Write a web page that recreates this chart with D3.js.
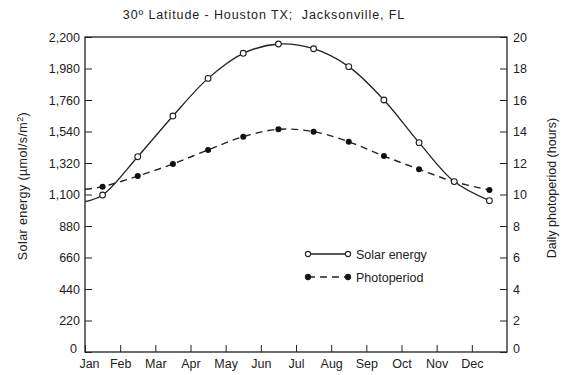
<!DOCTYPE html>
<html>
<head>
<meta charset="utf-8">
<script src="https://cdn.jsdelivr.net/npm/d3@7"></script>
<style>
  body { margin: 0; background: #fff; }
  svg { display: block; font-family: "Liberation Sans", Arial, sans-serif; }
  .axis text { font-size: 12.5px; fill: #222; }
  .axis line, .axis path { stroke: #222; }
</style>
</head>
<body>
<div id="chart"></div>
<script>
// month labels, values read at mid-month
const months = ['Jan', 'Feb', 'Mar', 'Apr', 'May', 'Jun', 'Jul', 'Aug', 'Sep', 'Oct', 'Nov', 'Dec'];
const solarEnergy = [1096, 1364, 1648, 1911, 2086, 2151, 2118, 1993, 1760, 1462, 1190, 1057];
const photoperiod = [10.5, 11.17, 11.94, 12.83, 13.67, 14.14, 13.99, 13.35, 12.44, 11.6, 10.81, 10.29];
// curve value where it meets the left axis (Jan 1)
const solarJan1 = 1050;
const photoJan1 = 10.33;
const solarTicks = d3.range(0, 2201, 220);
const hourTicks = d3.range(0, 21, 2);

const W = 563, H = 375;
const margin = {top: 37, right: 56, bottom: 23, left: 85};
const width = W - margin.left - margin.right;
const height = H - margin.top - margin.bottom;

const svg = d3.select('#chart').append('svg')
    .attr('width', W)
    .attr('height', H);

svg.append('text')
    .attr('x', 264)
    .attr('y', 19)
    .attr('text-anchor', 'middle')
    .style('font-size', '12.5px')
    .style('letter-spacing', '0.9px')
    .style('white-space', 'pre')
    .style('fill', '#222')
    .text('30º Latitude - Houston TX;  Jacksonville, FL');

const g = svg.append('g')
    .attr('transform', `translate(${margin.left}, ${margin.top})`);

let xScale = d3.scaleLinear().domain([0, 12]).range([0, width]);
let yLeft = d3.scaleLinear().domain([0, 2200]).range([height, 0]);
let yRight = d3.scaleLinear().domain([0, 20]).range([height, 0]);

// frame
g.append('rect')
    .attr('width', width)
    .attr('height', height)
    .attr('fill', 'none')
    .attr('stroke', '#222')
    .attr('stroke-width', 1.3);

g.append('g')
    .attr('class', 'axis')
    .call(d3.axisLeft(yLeft).tickValues(solarTicks).tickFormat(d3.format(','))
        .tickSizeInner(-7).tickSizeOuter(0).tickPadding(5))
    .call(a => a.select('.domain').remove())
    .call(a => a.selectAll('text').filter(d => d === 0).attr('dy', '0.05em').attr('x', -8));

g.append('g')
    .attr('class', 'axis')
    .attr('transform', `translate(${width}, 0)`)
    .call(d3.axisRight(yRight).tickValues(hourTicks)
        .tickSizeInner(-7).tickSizeOuter(0).tickPadding(6))
    .call(a => a.select('.domain').remove())
    .call(a => a.selectAll('text').filter(d => d === 0).attr('dy', '0.05em'));

g.append('g')
    .attr('class', 'axis')
    .attr('transform', `translate(0, ${height})`)
    .call(d3.axisBottom(xScale).tickValues(d3.range(0, 12)).tickFormat(i => months[i])
        .tickSizeInner(-7).tickSizeOuter(0).tickPadding(4))
    .call(a => a.select('.domain').remove())
    .call(a => a.selectAll('text').attr('dy', '0.95em'))
    .call(a => a.selectAll('text').filter(d => d === 0).attr('x', 4));

// axis titles
svg.append('text')
    .attr('transform', 'translate(27, 186) rotate(-90)')
    .attr('text-anchor', 'middle')
    .style('font-size', '12.5px')
    .style('letter-spacing', '0.4px')
    .style('fill', '#222')
    .html('Solar energy (µmol/s/m<tspan dy="-4" font-size="9">2</tspan><tspan dy="4">)</tspan>');

svg.append('text')
    .attr('transform', 'translate(556, 188) rotate(-90)')
    .attr('text-anchor', 'middle')
    .style('font-size', '12.5px')
    .style('fill', '#222')
    .text('Daily photoperiod (hours)');

const solarPts = [[0, solarJan1]].concat(solarEnergy.map((v, i) => [i + 0.5, v]));
const photoPts = [[0, photoJan1]].concat(photoperiod.map((v, i) => [i + 0.5, v]));

const solarLine = d3.line()
    .x(d => xScale(d[0]))
    .y(d => yLeft(d[1]))
    .curve(d3.curveCatmullRom);

const photoLine = d3.line()
    .x(d => xScale(d[0]))
    .y(d => yRight(d[1]))
    .curve(d3.curveCatmullRom);

g.append('path')
    .datum(photoPts)
    .attr('d', photoLine)
    .attr('fill', 'none')
    .attr('stroke', '#222')
    .attr('stroke-width', 1.4)
    .attr('stroke-dasharray', '7,5');

g.append('path')
    .datum(solarPts)
    .attr('d', solarLine)
    .attr('fill', 'none')
    .attr('stroke', '#222')
    .attr('stroke-width', 1.3);

g.append('g').selectAll('circle')
    .data(photoperiod)
    .enter()
    .append('circle')
        .attr('cx', (d, i) => xScale(i + 0.5))
        .attr('cy', d => yRight(d))
        .attr('r', 3)
        .attr('fill', '#111');

g.append('g').selectAll('circle')
    .data(solarEnergy)
    .enter()
    .append('circle')
        .attr('cx', (d, i) => xScale(i + 0.5))
        .attr('cy', d => yLeft(d))
        .attr('r', 2.9)
        .attr('fill', '#fff')
        .attr('stroke', '#222')
        .attr('stroke-width', 1.1);

// legend
const legend = svg.append('g').attr('transform', 'translate(308, 254)');
const legendItems = [
    {label: 'Solar energy', dash: null, fill: '#fff'},
    {label: 'Photoperiod', dash: '7,5', fill: '#111'}
];
legendItems.forEach((it, i) => {
    let row = legend.append('g').attr('transform', `translate(0, ${i * 23})`);
    row.append('line')
        .attr('x1', 0).attr('x2', 40)
        .attr('stroke', '#222')
        .attr('stroke-width', 1.3)
        .attr('stroke-dasharray', it.dash);
    [0, 40].forEach(cx => {
        row.append('circle')
            .attr('cx', cx)
            .attr('r', 2.6)
            .attr('fill', it.fill)
            .attr('stroke', '#222')
            .attr('stroke-width', 1.1);
    });
    row.append('text')
        .attr('x', 48)
        .attr('y', 4.5)
        .style('font-size', '12.5px')
        .style('fill', '#222')
        .text(it.label);
});
</script>
</body>
</html>
